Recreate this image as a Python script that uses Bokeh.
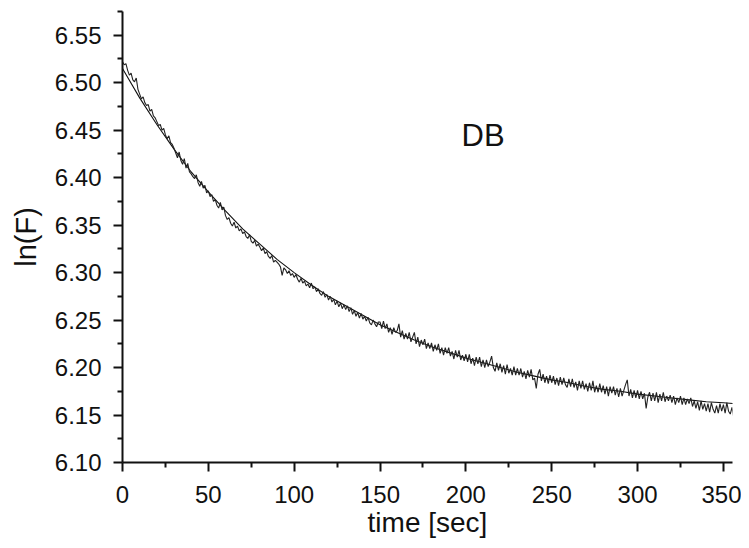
from bokeh.plotting import figure
from bokeh.models import Range1d, FixedTicker, Label, NumeralTickFormatter
from bokeh.embed import file_html
from bokeh.resources import INLINE

# ---- data ----
fit_time = [0, 10, 20, 30, 40, 50, 60, 70, 80, 90, 100, 110, 120, 130, 140, 150,
            160, 170, 180, 190, 200, 210, 220, 230, 240, 250, 260, 270, 280, 290,
            300, 310, 320, 330, 340, 350, 356]
fit_lnF = [6.515, 6.484, 6.456, 6.430, 6.406, 6.385, 6.365, 6.346, 6.330, 6.314,
           6.300, 6.287, 6.275, 6.265, 6.255, 6.245, 6.237, 6.229, 6.222, 6.216,
           6.210, 6.205, 6.200, 6.195, 6.191, 6.187, 6.184, 6.180, 6.177, 6.175,
           6.172, 6.170, 6.168, 6.166, 6.164, 6.163, 6.162]

# measured trace, one reading per second (t = 0 ... 356 s)
meas_lnF = [
    6.522, 6.519, 6.520, 6.513, 6.508, 6.510, 6.503, 6.501, 6.505, 6.493,
    6.488, 6.483, 6.485, 6.479, 6.476, 6.477, 6.470, 6.472, 6.465, 6.463,
    6.459, 6.455, 6.456, 6.450, 6.452, 6.445, 6.441, 6.444, 6.437, 6.435,
    6.431, 6.426, 6.421, 6.427, 6.418, 6.414, 6.420, 6.410, 6.415, 6.406,
    6.404, 6.401, 6.399, 6.403, 6.395, 6.391, 6.396, 6.389, 6.392, 6.384,
    6.386, 6.380, 6.382, 6.375, 6.377, 6.371, 6.368, 6.374, 6.366, 6.369,
    6.360, 6.356, 6.358, 6.352, 6.349, 6.353, 6.347, 6.349, 6.344, 6.346,
    6.341, 6.343, 6.338, 6.336, 6.340, 6.333, 6.331, 6.334, 6.328, 6.330,
    6.327, 6.323, 6.326, 6.320, 6.322, 6.317, 6.315, 6.318, 6.311, 6.313,
    6.311, 6.309, 6.306, 6.297, 6.305, 6.303, 6.299, 6.302, 6.297, 6.299,
    6.295, 6.298, 6.293, 6.290, 6.294, 6.289, 6.291, 6.286, 6.288, 6.284,
    6.289, 6.283, 6.285, 6.280, 6.283, 6.278, 6.276, 6.280, 6.274, 6.277,
    6.271, 6.275, 6.269, 6.272, 6.266, 6.270, 6.264, 6.268, 6.262, 6.266,
    6.261, 6.265, 6.259, 6.263, 6.256, 6.260, 6.254, 6.258, 6.252, 6.257,
    6.251, 6.254, 6.249, 6.253, 6.247, 6.245, 6.250, 6.246, 6.243, 6.248,
    6.248, 6.241, 6.249, 6.241, 6.246, 6.237, 6.242, 6.235, 6.242, 6.237,
    6.239, 6.246, 6.232, 6.239, 6.230, 6.236, 6.230, 6.237, 6.227, 6.232,
    6.237, 6.225, 6.232, 6.222, 6.229, 6.224, 6.230, 6.220, 6.226, 6.220,
    6.226, 6.217, 6.224, 6.218, 6.225, 6.215, 6.221, 6.213, 6.221, 6.215,
    6.221, 6.212, 6.217, 6.209, 6.218, 6.211, 6.218, 6.208, 6.213, 6.207,
    6.214, 6.206, 6.214, 6.204, 6.210, 6.202, 6.211, 6.204, 6.211, 6.201,
    6.208, 6.200, 6.208, 6.201, 6.206, 6.212, 6.200, 6.196, 6.205, 6.197,
    6.204, 6.195, 6.202, 6.193, 6.203, 6.194, 6.199, 6.192, 6.201, 6.192,
    6.199, 6.192, 6.199, 6.190, 6.196, 6.188, 6.197, 6.190, 6.198, 6.187,
    6.189, 6.178, 6.193, 6.198, 6.186, 6.193, 6.184, 6.191, 6.183, 6.192,
    6.184, 6.191, 6.182, 6.189, 6.181, 6.190, 6.182, 6.189, 6.182, 6.179,
    6.188, 6.180, 6.188, 6.179, 6.185, 6.176, 6.186, 6.178, 6.186, 6.177,
    6.183, 6.175, 6.184, 6.176, 6.186, 6.174, 6.181, 6.174, 6.183, 6.174,
    6.181, 6.172, 6.180, 6.170, 6.180, 6.173, 6.180, 6.171, 6.178, 6.169,
    6.178, 6.170, 6.176, 6.182, 6.187, 6.170, 6.177, 6.168, 6.176, 6.168,
    6.176, 6.167, 6.175, 6.167, 6.173, 6.157, 6.169, 6.174, 6.165, 6.173,
    6.165, 6.174, 6.163, 6.172, 6.165, 6.174, 6.164, 6.170, 6.165, 6.171,
    6.163, 6.170, 6.161, 6.168, 6.163, 6.170, 6.161, 6.168, 6.161, 6.167,
    6.162, 6.168, 6.159, 6.165, 6.157, 6.164, 6.155, 6.165, 6.156, 6.162,
    6.154, 6.162, 6.153, 6.163, 6.156, 6.152, 6.160, 6.152, 6.162, 6.154,
    6.161, 6.152, 6.163, 6.154, 6.151, 6.158, 6.148,
]
meas_time = list(range(len(meas_lnF)))

x_major = [0, 50, 100, 150, 200, 250, 300, 350]
x_minor = [25, 75, 125, 175, 225, 275, 325]
y_major = [6.10, 6.15, 6.20, 6.25, 6.30, 6.35, 6.40, 6.45, 6.50, 6.55]
y_minor = [6.125, 6.175, 6.225, 6.275, 6.325, 6.375, 6.425, 6.475, 6.525, 6.575]

FONT = "Liberation Sans"

p = figure(width=741, height=540,
           x_range=Range1d(0, 355.3), y_range=Range1d(6.10, 6.575),
           output_backend="svg", toolbar_location=None,
           min_border_left=122, min_border_right=9, min_border_top=11,
           min_border_bottom=77)

p.line(fit_time, fit_lnF, line_color="#111111", line_width=1.1)
p.line(meas_time, meas_lnF, line_color="#222222", line_width=1.1)

p.add_layout(Label(x=197.5, y=6.444, text="DB", text_font=FONT,
                   text_font_size="31px", text_color="#111111",
                   text_baseline="alphabetic", text_align="left"))

p.xgrid.visible = False
p.ygrid.visible = False
p.outline_line_color = None

for ax in (p.xaxis[0], p.yaxis[0]):
    ax.axis_line_width = 2
    ax.axis_line_color = "#111111"
    ax.major_tick_line_width = 2
    ax.minor_tick_line_width = 2
    ax.major_tick_line_color = "#111111"
    ax.minor_tick_line_color = "#111111"
    ax.major_tick_out = 9
    ax.major_tick_in = 0
    ax.minor_tick_out = 5
    ax.minor_tick_in = 0
    ax.major_label_text_font = FONT
    ax.major_label_text_font_size = "24px"
    ax.major_label_text_color = "#111111"
    ax.axis_label_text_font = FONT
    ax.axis_label_text_font_style = "normal"
    ax.axis_label_text_color = "#111111"

p.xaxis[0].axis_label_text_font_size = "28px"
p.yaxis[0].axis_label_text_font_size = "29px"
p.xaxis[0].ticker = FixedTicker(ticks=x_major, minor_ticks=x_minor)
p.yaxis[0].ticker = FixedTicker(ticks=y_major, minor_ticks=y_minor)
p.yaxis[0].formatter = NumeralTickFormatter(format="0.00")
p.xaxis[0].axis_label = "time [sec]"
p.yaxis[0].axis_label = "ln(F)"
p.xaxis[0].major_label_standoff = 14
p.yaxis[0].major_label_standoff = 12
p.xaxis[0].axis_label_standoff = 1
p.yaxis[0].axis_label_standoff = 10

open("out.html", "w").write(file_html(p, INLINE))
